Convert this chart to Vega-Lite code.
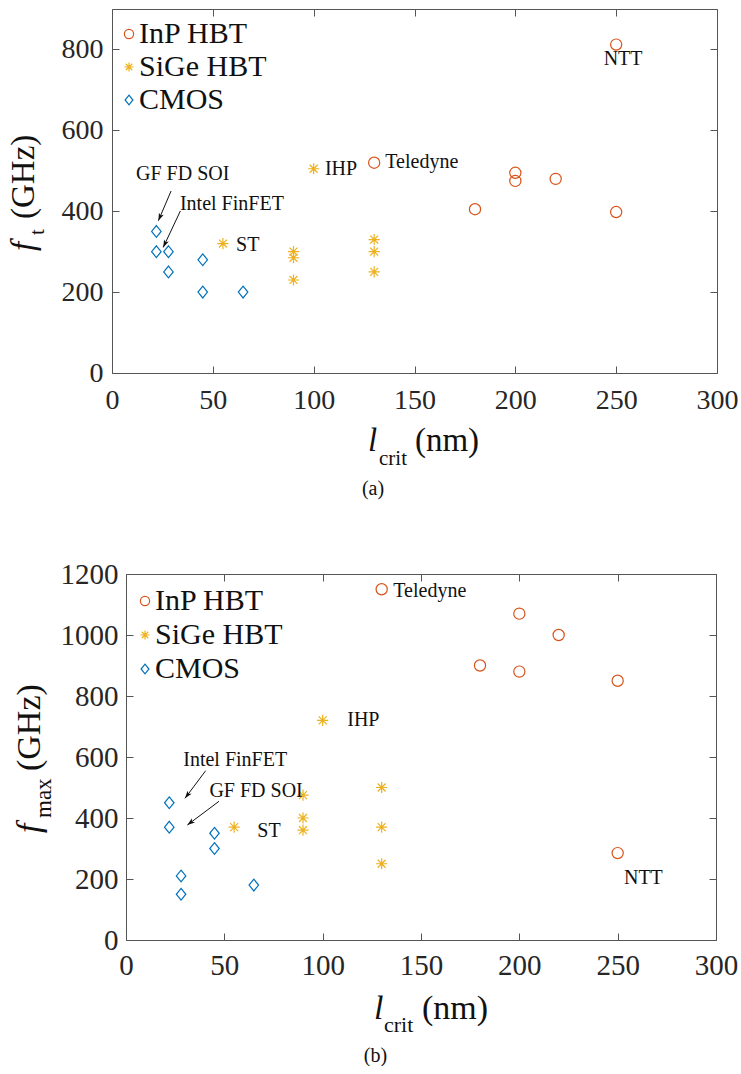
{
  "$schema": "https://vega.github.io/schema/vega-lite/v6.json",
  "padding": {"left": 0, "top": 8, "right": 0, "bottom": 0},
  "spacing": 60,
  "config": {
    "font": "Liberation Serif",
    "view": {"stroke": null},
    "axis": {"grid": false, "domainColor": "#555555", "tickColor": "#555555", "labelColor": "#262626", "labelFont": "Liberation Serif", "tickSize": -7, "domainWidth": 1, "tickWidth": 1, "labelFlush": false, "labelOverlap": false, "title": null},
    "legend": {"labelFont": "Liberation Serif"},
    "text": {"font": "Liberation Serif", "color": "#111111"}
  },
  "datasets": {
    "ft": [
      {"tech": "InP HBT", "l": 130, "f": 520},
      {"tech": "InP HBT", "l": 250, "f": 812},
      {"tech": "InP HBT", "l": 200, "f": 495},
      {"tech": "InP HBT", "l": 200, "f": 475},
      {"tech": "InP HBT", "l": 220, "f": 480},
      {"tech": "InP HBT", "l": 180, "f": 405},
      {"tech": "InP HBT", "l": 250, "f": 398},
      {"tech": "SiGe HBT", "l": 55, "f": 320},
      {"tech": "SiGe HBT", "l": 90, "f": 300},
      {"tech": "SiGe HBT", "l": 90, "f": 285},
      {"tech": "SiGe HBT", "l": 90, "f": 230},
      {"tech": "SiGe HBT", "l": 100, "f": 505},
      {"tech": "SiGe HBT", "l": 130, "f": 330},
      {"tech": "SiGe HBT", "l": 130, "f": 300},
      {"tech": "SiGe HBT", "l": 130, "f": 250},
      {"tech": "CMOS", "l": 22, "f": 350},
      {"tech": "CMOS", "l": 22, "f": 300},
      {"tech": "CMOS", "l": 28, "f": 300},
      {"tech": "CMOS", "l": 28, "f": 250},
      {"tech": "CMOS", "l": 45, "f": 280},
      {"tech": "CMOS", "l": 45, "f": 200},
      {"tech": "CMOS", "l": 65, "f": 200}
    ],
    "fmax": [
      {"tech": "InP HBT", "l": 130, "f": 1150},
      {"tech": "InP HBT", "l": 200, "f": 1070},
      {"tech": "InP HBT", "l": 220, "f": 1000},
      {"tech": "InP HBT", "l": 180, "f": 900},
      {"tech": "InP HBT", "l": 200, "f": 880},
      {"tech": "InP HBT", "l": 250, "f": 850},
      {"tech": "InP HBT", "l": 250, "f": 285},
      {"tech": "SiGe HBT", "l": 55, "f": 370},
      {"tech": "SiGe HBT", "l": 90, "f": 475},
      {"tech": "SiGe HBT", "l": 90, "f": 400},
      {"tech": "SiGe HBT", "l": 90, "f": 360},
      {"tech": "SiGe HBT", "l": 100, "f": 720},
      {"tech": "SiGe HBT", "l": 130, "f": 500},
      {"tech": "SiGe HBT", "l": 130, "f": 370},
      {"tech": "SiGe HBT", "l": 130, "f": 250},
      {"tech": "CMOS", "l": 22, "f": 450},
      {"tech": "CMOS", "l": 22, "f": 370},
      {"tech": "CMOS", "l": 28, "f": 210},
      {"tech": "CMOS", "l": 28, "f": 150},
      {"tech": "CMOS", "l": 45, "f": 350},
      {"tech": "CMOS", "l": 45, "f": 300},
      {"tech": "CMOS", "l": 65, "f": 180}
    ],
    "notes_top": [
      {"x": 11.9, "y": 477, "text": "GF FD SOI"},
      {"x": 33.7, "y": 403, "text": "Intel FinFET"},
      {"x": 61.5, "y": 302, "text": "ST"},
      {"x": 105.6, "y": 489.6, "text": "IHP"},
      {"x": 135.5, "y": 506, "text": "Teledyne"},
      {"x": 243.8, "y": 761.6, "text": "NTT"}
    ],
    "notes_bot": [
      {"x": 29.1, "y": 571.5, "text": "Intel FinFET"},
      {"x": 42.4, "y": 468, "text": "GF FD SOI"},
      {"x": 66.8, "y": 336.7, "text": "ST"},
      {"x": 112.5, "y": 700.6, "text": "IHP"},
      {"x": 135.9, "y": 1123.6, "text": "Teledyne"},
      {"x": 253.2, "y": 183.6, "text": "NTT"}
    ],
    "arrows_top": [
      {"name": "GF", "x": 29.3, "y": 450, "x2": 23, "y2": 376.6},
      {"name": "Intel", "x": 33.9, "y": 400.6, "x2": 25.4, "y2": 310.6}
    ],
    "arrows_bot": [
      {"name": "Intel", "x": 40.5, "y": 555, "x2": 30, "y2": 464.6},
      {"name": "GF", "x": 47.3, "y": 454.8, "x2": 31.2, "y2": 377}
    ]
  },
  "resolve": {
    "scale": {"color": "independent", "shape": "independent"},
    "legend": {"color": "independent", "shape": "independent"}
  },
  "vconcat": [
    {
      "spacing": 0,
      "resolve": {
        "scale": {"color": "independent", "shape": "independent"},
        "legend": {"color": "independent", "shape": "independent"}
      },
      "hconcat": [
        {"width": 7, "height": 1, "data": {"values": []}, "mark": {"type": "point", "opacity": 0}},
        {
          "width": 605,
          "height": 364,
          "title": {"text": "(a)", "orient": "bottom", "anchor": "middle", "frame": "bounds", "fontSize": 20, "fontWeight": "normal", "font": "Liberation Serif", "color": "#111111", "offset": 10},
          "resolve": {"axis": {"x": "independent", "y": "independent"}},
          "layer": [
            {
              "data": {"name": "ft"},
              "mark": {"type": "point", "filled": false, "strokeWidth": 1.2, "size": 125, "opacity": 1},
              "encoding": {
                "x": {"field": "l", "type": "quantitative", "scale": {"domain": [0, 300], "nice": false}, "axis": {"values": [0, 50, 100, 150, 200, 250, 300], "format": "d", "labelPadding": 20, "labelFontSize": 28, "labelFont": "Liberation Serif"}},
                "y": {"field": "f", "type": "quantitative", "scale": {"domain": [0, 900], "nice": false}, "axis": {"values": [0, 200, 400, 600, 800], "format": "d", "labelPadding": 16, "labelFontSize": 28, "labelFont": "Liberation Serif"}},
                "color": {"field": "tech", "type": "nominal", "scale": {"domain": ["InP HBT", "SiGe HBT", "CMOS"], "range": ["#D95319", "#EDB120", "#0072BD"]}, "legend": {"title": null, "orient": "top-left", "offset": 10, "padding": 0, "rowPadding": 3, "symbolOffset": -8, "labelOffset": -5, "labelFontSize": 30, "labelFont": "Liberation Serif", "labelColor": "#111111", "symbolSize": 85, "symbolStrokeWidth": 1.2}},
                "shape": {"field": "tech", "type": "nominal", "scale": {"domain": ["InP HBT", "SiGe HBT", "CMOS"], "range": ["circle", "M-1,0L1,0M0,-1L0,1M-0.71,-0.71L0.71,0.71M-0.71,0.71L0.71,-0.71", "M0,-1.05L0.85,0L0,1.05L-0.85,0Z"]}, "legend": {"title": null, "orient": "top-left", "offset": 10, "padding": 0, "rowPadding": 3, "symbolOffset": -8, "labelOffset": -5, "labelFontSize": 30, "labelFont": "Liberation Serif", "labelColor": "#111111", "symbolSize": 85, "symbolStrokeWidth": 1.2}}
              }
            },
            {
              "data": {"name": "ft"},
              "mark": {"type": "point", "opacity": 0},
              "encoding": {
                "x": {"field": "l", "type": "quantitative", "scale": {"domain": [0, 300], "nice": false}, "axis": {"orient": "top", "labels": false, "values": [0, 50, 100, 150, 200, 250, 300]}},
                "y": {"field": "f", "type": "quantitative", "scale": {"domain": [0, 900], "nice": false}, "axis": {"orient": "right", "labels": false, "values": [0, 200, 400, 600, 800]}}
              }
            },
            {
              "data": {"name": "notes_top"},
              "mark": {"type": "text", "align": "left", "baseline": "alphabetic", "fontSize": 20},
              "encoding": {
                "x": {"field": "x", "type": "quantitative", "scale": {"domain": [0, 300], "nice": false}, "axis": null},
                "y": {"field": "y", "type": "quantitative", "scale": {"domain": [0, 900], "nice": false}, "axis": null},
                "text": {"field": "text"}
              }
            },
            {
              "data": {"name": "arrows_top"},
              "mark": {"type": "rule", "color": "#111111", "strokeWidth": 1},
              "encoding": {
                "x": {"field": "x", "type": "quantitative", "scale": {"domain": [0, 300], "nice": false}, "axis": null},
                "y": {"field": "y", "type": "quantitative", "scale": {"domain": [0, 900], "nice": false}, "axis": null},
                "x2": {"field": "x2"},
                "y2": {"field": "y2"}
              }
            },
            {
              "data": {"name": "arrows_top"},
              "transform": [{"filter": "datum.name == 'GF'"}],
              "mark": {"type": "point", "shape": "M0,0L0.55,1.6L0,1.2L-0.55,1.6Z", "filled": true, "color": "#111111", "opacity": 1, "size": 90, "strokeWidth": 0, "angle": 203},
              "encoding": {
                "x": {"field": "x2", "type": "quantitative", "scale": {"domain": [0, 300], "nice": false}, "axis": null},
                "y": {"field": "y2", "type": "quantitative", "scale": {"domain": [0, 900], "nice": false}, "axis": null}
              }
            },
            {
              "data": {"name": "arrows_top"},
              "transform": [{"filter": "datum.name == 'Intel'"}],
              "mark": {"type": "point", "shape": "M0,0L0.55,1.6L0,1.2L-0.55,1.6Z", "filled": true, "color": "#111111", "opacity": 1, "size": 90, "strokeWidth": 0, "angle": 205},
              "encoding": {
                "x": {"field": "x2", "type": "quantitative", "scale": {"domain": [0, 300], "nice": false}, "axis": null},
                "y": {"field": "y2", "type": "quantitative", "scale": {"domain": [0, 900], "nice": false}, "axis": null}
              }
            },
            {
              "data": {"values": [{"x": 126.9, "y": -192.9, "text": "l"}]},
              "mark": {"type": "text", "align": "left", "baseline": "alphabetic", "fontSize": 33, "fontStyle": "italic"},
              "encoding": {
                "x": {"field": "x", "type": "quantitative", "scale": {"domain": [0, 300], "nice": false}, "axis": null},
                "y": {"field": "y", "type": "quantitative", "scale": {"domain": [0, 900], "nice": false}, "axis": null},
                "text": {"field": "text"}
              }
            },
            {
              "data": {"values": [{"x": 132.4, "y": -227.5, "text": "crit"}]},
              "mark": {"type": "text", "align": "left", "baseline": "alphabetic", "fontSize": 21},
              "encoding": {
                "x": {"field": "x", "type": "quantitative", "scale": {"domain": [0, 300], "nice": false}, "axis": null},
                "y": {"field": "y", "type": "quantitative", "scale": {"domain": [0, 900], "nice": false}, "axis": null},
                "text": {"field": "text"}
              }
            },
            {
              "data": {"values": [{"x": 150.2, "y": -192.9, "text": "(nm)"}]},
              "mark": {"type": "text", "align": "left", "baseline": "alphabetic", "fontSize": 33},
              "encoding": {
                "x": {"field": "x", "type": "quantitative", "scale": {"domain": [0, 300], "nice": false}, "axis": null},
                "y": {"field": "y", "type": "quantitative", "scale": {"domain": [0, 900], "nice": false}, "axis": null},
                "text": {"field": "text"}
              }
            },
            {
              "data": {"values": [{"x": -38.7, "y": 301.7, "text": "f"}]},
              "mark": {"type": "text", "align": "left", "baseline": "alphabetic", "fontSize": 33, "fontStyle": "italic", "angle": 270},
              "encoding": {
                "x": {"field": "x", "type": "quantitative", "scale": {"domain": [0, 300], "nice": false}, "axis": null},
                "y": {"field": "y", "type": "quantitative", "scale": {"domain": [0, 900], "nice": false}, "axis": null},
                "text": {"field": "text"}
              }
            },
            {
              "data": {"values": [{"x": -33.7, "y": 341, "text": "t"}]},
              "mark": {"type": "text", "align": "left", "baseline": "alphabetic", "fontSize": 21, "angle": 270},
              "encoding": {
                "x": {"field": "x", "type": "quantitative", "scale": {"domain": [0, 300], "nice": false}, "axis": null},
                "y": {"field": "y", "type": "quantitative", "scale": {"domain": [0, 900], "nice": false}, "axis": null},
                "text": {"field": "text"}
              }
            },
            {
              "data": {"values": [{"x": -38.7, "y": 380.8, "text": "(GHz)"}]},
              "mark": {"type": "text", "align": "left", "baseline": "alphabetic", "fontSize": 33, "angle": 270},
              "encoding": {
                "x": {"field": "x", "type": "quantitative", "scale": {"domain": [0, 300], "nice": false}, "axis": null},
                "y": {"field": "y", "type": "quantitative", "scale": {"domain": [0, 900], "nice": false}, "axis": null},
                "text": {"field": "text"}
              }
            }
          ]
        }
      ]
    },
    {
      "spacing": 0,
      "resolve": {
        "scale": {"color": "independent", "shape": "independent"},
        "legend": {"color": "independent", "shape": "independent"}
      },
      "hconcat": [
        {"width": 13, "height": 1, "data": {"values": []}, "mark": {"type": "point", "opacity": 0}},
        {
          "width": 590,
          "height": 366,
          "title": {"text": "(b)", "orient": "bottom", "anchor": "middle", "frame": "bounds", "fontSize": 20, "fontWeight": "normal", "font": "Liberation Serif", "color": "#111111", "offset": 10},
          "resolve": {"axis": {"x": "independent", "y": "independent"}},
          "layer": [
            {
              "data": {"name": "fmax"},
              "mark": {"type": "point", "filled": false, "strokeWidth": 1.2, "size": 125, "opacity": 1},
              "encoding": {
                "x": {"field": "l", "type": "quantitative", "scale": {"domain": [0, 300], "nice": false}, "axis": {"values": [0, 50, 100, 150, 200, 250, 300], "format": "d", "labelPadding": 18, "labelFontSize": 29, "labelFont": "Liberation Serif"}},
                "y": {"field": "f", "type": "quantitative", "scale": {"domain": [0, 1200], "nice": false}, "axis": {"values": [0, 200, 400, 600, 800, 1000, 1200], "format": "d", "labelPadding": 15, "labelFontSize": 29, "labelFont": "Liberation Serif"}},
                "color": {"field": "tech", "type": "nominal", "scale": {"domain": ["InP HBT", "SiGe HBT", "CMOS"], "range": ["#D95319", "#EDB120", "#0072BD"]}, "legend": {"title": null, "orient": "top-left", "offset": 12, "padding": 0, "rowPadding": 4, "symbolOffset": -8, "labelOffset": -5, "labelFontSize": 30, "labelFont": "Liberation Serif", "labelColor": "#111111", "symbolSize": 85, "symbolStrokeWidth": 1.2}},
                "shape": {"field": "tech", "type": "nominal", "scale": {"domain": ["InP HBT", "SiGe HBT", "CMOS"], "range": ["circle", "M-1,0L1,0M0,-1L0,1M-0.71,-0.71L0.71,0.71M-0.71,0.71L0.71,-0.71", "M0,-1.05L0.85,0L0,1.05L-0.85,0Z"]}, "legend": {"title": null, "orient": "top-left", "offset": 12, "padding": 0, "rowPadding": 4, "symbolOffset": -8, "labelOffset": -5, "labelFontSize": 30, "labelFont": "Liberation Serif", "labelColor": "#111111", "symbolSize": 85, "symbolStrokeWidth": 1.2}}
              }
            },
            {
              "data": {"name": "fmax"},
              "mark": {"type": "point", "opacity": 0},
              "encoding": {
                "x": {"field": "l", "type": "quantitative", "scale": {"domain": [0, 300], "nice": false}, "axis": {"orient": "top", "labels": false, "values": [0, 50, 100, 150, 200, 250, 300]}},
                "y": {"field": "f", "type": "quantitative", "scale": {"domain": [0, 1200], "nice": false}, "axis": {"orient": "right", "labels": false, "values": [0, 200, 400, 600, 800, 1000, 1200]}}
              }
            },
            {
              "data": {"name": "notes_bot"},
              "mark": {"type": "text", "align": "left", "baseline": "alphabetic", "fontSize": 20},
              "encoding": {
                "x": {"field": "x", "type": "quantitative", "scale": {"domain": [0, 300], "nice": false}, "axis": null},
                "y": {"field": "y", "type": "quantitative", "scale": {"domain": [0, 1200], "nice": false}, "axis": null},
                "text": {"field": "text"}
              }
            },
            {
              "data": {"name": "arrows_bot"},
              "mark": {"type": "rule", "color": "#111111", "strokeWidth": 1},
              "encoding": {
                "x": {"field": "x", "type": "quantitative", "scale": {"domain": [0, 300], "nice": false}, "axis": null},
                "y": {"field": "y", "type": "quantitative", "scale": {"domain": [0, 1200], "nice": false}, "axis": null},
                "x2": {"field": "x2"},
                "y2": {"field": "y2"}
              }
            },
            {
              "data": {"name": "arrows_bot"},
              "transform": [{"filter": "datum.name == 'Intel'"}],
              "mark": {"type": "point", "shape": "M0,0L0.55,1.6L0,1.2L-0.55,1.6Z", "filled": true, "color": "#111111", "opacity": 1, "size": 90, "strokeWidth": 0, "angle": 217},
              "encoding": {
                "x": {"field": "x2", "type": "quantitative", "scale": {"domain": [0, 300], "nice": false}, "axis": null},
                "y": {"field": "y2", "type": "quantitative", "scale": {"domain": [0, 1200], "nice": false}, "axis": null}
              }
            },
            {
              "data": {"name": "arrows_bot"},
              "transform": [{"filter": "datum.name == 'GF'"}],
              "mark": {"type": "point", "shape": "M0,0L0.55,1.6L0,1.2L-0.55,1.6Z", "filled": true, "color": "#111111", "opacity": 1, "size": 90, "strokeWidth": 0, "angle": 233},
              "encoding": {
                "x": {"field": "x2", "type": "quantitative", "scale": {"domain": [0, 300], "nice": false}, "axis": null},
                "y": {"field": "y2", "type": "quantitative", "scale": {"domain": [0, 1200], "nice": false}, "axis": null}
              }
            },
            {
              "data": {"values": [{"x": 126.1, "y": -259, "text": "l"}]},
              "mark": {"type": "text", "align": "left", "baseline": "alphabetic", "fontSize": 34, "fontStyle": "italic"},
              "encoding": {
                "x": {"field": "x", "type": "quantitative", "scale": {"domain": [0, 300], "nice": false}, "axis": null},
                "y": {"field": "y", "type": "quantitative", "scale": {"domain": [0, 1200], "nice": false}, "axis": null},
                "text": {"field": "text"}
              }
            },
            {
              "data": {"values": [{"x": 131.2, "y": -301.6, "text": "crit"}]},
              "mark": {"type": "text", "align": "left", "baseline": "alphabetic", "fontSize": 22},
              "encoding": {
                "x": {"field": "x", "type": "quantitative", "scale": {"domain": [0, 300], "nice": false}, "axis": null},
                "y": {"field": "y", "type": "quantitative", "scale": {"domain": [0, 1200], "nice": false}, "axis": null},
                "text": {"field": "text"}
              }
            },
            {
              "data": {"values": [{"x": 150.5, "y": -259, "text": "(nm)"}]},
              "mark": {"type": "text", "align": "left", "baseline": "alphabetic", "fontSize": 34},
              "encoding": {
                "x": {"field": "x", "type": "quantitative", "scale": {"domain": [0, 300], "nice": false}, "axis": null},
                "y": {"field": "y", "type": "quantitative", "scale": {"domain": [0, 1200], "nice": false}, "axis": null},
                "text": {"field": "text"}
              }
            },
            {
              "data": {"values": [{"x": -43.7, "y": 350.8, "text": "f"}]},
              "mark": {"type": "text", "align": "left", "baseline": "alphabetic", "fontSize": 34, "fontStyle": "italic", "angle": 270},
              "encoding": {
                "x": {"field": "x", "type": "quantitative", "scale": {"domain": [0, 300], "nice": false}, "axis": null},
                "y": {"field": "y", "type": "quantitative", "scale": {"domain": [0, 1200], "nice": false}, "axis": null},
                "text": {"field": "text"}
              }
            },
            {
              "data": {"values": [{"x": -38.1, "y": 400, "text": "max"}]},
              "mark": {"type": "text", "align": "left", "baseline": "alphabetic", "fontSize": 23, "angle": 270},
              "encoding": {
                "x": {"field": "x", "type": "quantitative", "scale": {"domain": [0, 300], "nice": false}, "axis": null},
                "y": {"field": "y", "type": "quantitative", "scale": {"domain": [0, 1200], "nice": false}, "axis": null},
                "text": {"field": "text"}
              }
            },
            {
              "data": {"values": [{"x": -43.7, "y": 554, "text": "(GHz)"}]},
              "mark": {"type": "text", "align": "left", "baseline": "alphabetic", "fontSize": 34, "angle": 270},
              "encoding": {
                "x": {"field": "x", "type": "quantitative", "scale": {"domain": [0, 300], "nice": false}, "axis": null},
                "y": {"field": "y", "type": "quantitative", "scale": {"domain": [0, 1200], "nice": false}, "axis": null},
                "text": {"field": "text"}
              }
            }
          ]
        }
      ]
    }
  ]
}
